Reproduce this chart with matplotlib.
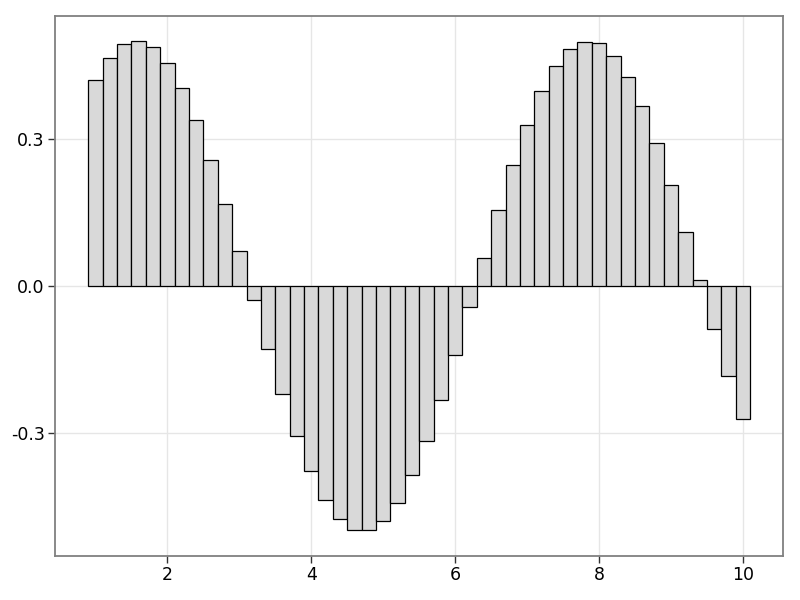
import matplotlib
matplotlib.use("Agg")
import matplotlib.pyplot as plt

# bar positions and heights
xs = [1.0, 1.2, 1.4, 1.6, 1.8, 2.0, 2.2, 2.4, 2.6, 2.8,
      3.0, 3.2, 3.4, 3.6, 3.8, 4.0, 4.2, 4.4, 4.6, 4.8,
      5.0, 5.2, 5.4, 5.6, 5.8, 6.0, 6.2, 6.4, 6.6, 6.8,
      7.0, 7.2, 7.4, 7.6, 7.8, 8.0, 8.2, 8.4, 8.6, 8.8,
      9.0, 9.2, 9.4, 9.6, 9.8, 10.0]
heights = [0.421, 0.466, 0.493, 0.500, 0.487, 0.455, 0.404, 0.338, 0.258, 0.167,
           0.071, -0.029, -0.128, -0.221, -0.306, -0.378, -0.436, -0.476, -0.497, -0.498,
           -0.479, -0.442, -0.386, -0.316, -0.232, -0.140, -0.042, 0.058, 0.156, 0.247,
           0.328, 0.397, 0.449, 0.484, 0.499, 0.495, 0.470, 0.427, 0.367, 0.292,
           0.206, 0.111, 0.012, -0.087, -0.183, -0.272]
xticks = [2, 4, 6, 8, 10]
yticks = [-0.3, 0.0, 0.3]
ytick_labels = ["-0.3", "0.0", "0.3"]

fig = plt.figure(figsize=(8, 6), dpi=100)
ax = fig.add_axes([0.069, 0.0733, 0.910, 0.900])

ax.bar(xs, heights, width=0.2, color="#d9d9d9", edgecolor="black", linewidth=0.9, zorder=3)

ax.set_xlim(0.44, 10.56)
ax.set_ylim(-0.551, 0.551)
ax.set_xticks(xticks)
ax.set_yticks(yticks)
ax.set_yticklabels(ytick_labels)
ax.grid(True, color="#e6e6e6", linewidth=1.0, zorder=0)
for sp in ax.spines.values():
    sp.set_color("#808080")
    sp.set_linewidth(1.3)
ax.tick_params(direction="out", length=5, width=1.0, color="#333333",
               labelsize=12.5, pad=2.5)

fig.savefig("out.png", dpi=100)
